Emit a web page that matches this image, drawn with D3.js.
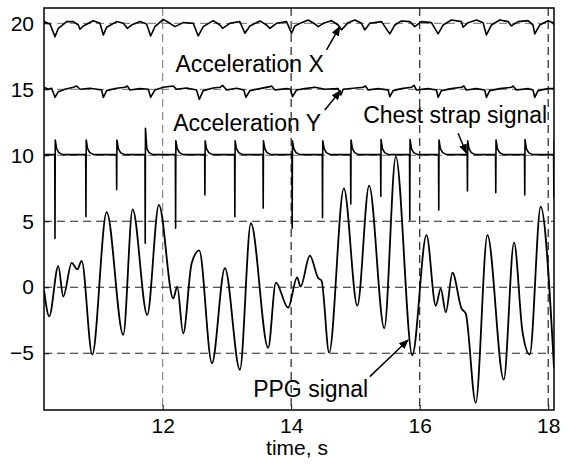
<!DOCTYPE html>
<html>
<head>
<meta charset="utf-8">
<script src="https://cdn.jsdelivr.net/npm/d3@7"></script>
<style>
body { margin: 0; background: #fff; }
svg { display: block; font-family: "Liberation Sans", Arial, Helvetica, sans-serif; }
</style>
</head>
<body>
<svg id="chart" width="567" height="464"></svg>
<script>
// ticks
var xTicks = [12, 14, 16, 18]
var yTicks = [-5, 0, 5, 10, 15, 20]

// acceleration X, [time s, value]
var accX = [
  [10.154,20.13],[10.247,19.95],[10.325,18.99],[10.377,19.62],[10.507,20.13],[10.610,20.13],[10.688,19.87],[10.714,19.55],
  [10.766,19.80],[10.921,20.20],[11.025,20.0],[11.077,19.12],[11.129,19.70],[11.284,20.13],[11.388,20.0],[11.450,19.62],
  [11.517,19.87],[11.647,20.13],[11.751,19.95],[11.813,19.04],[11.880,19.75],[12.010,20.30],[12.114,20.0],[12.191,19.75],
  [12.321,20.05],[12.476,20.0],[12.554,19.04],[12.632,19.75],[12.787,20.20],[12.891,19.87],[12.933,19.62],[13.047,20.0],
  [13.202,20.13],[13.280,19.25],[13.358,19.80],[13.513,20.18],[13.617,19.87],[13.669,19.62],[13.772,20.0],[13.928,20.13],
  [14.006,19.25],[14.058,19.80],[14.161,20.05],[14.265,20.25],[14.369,19.95],[14.420,19.75],[14.524,20.05],[14.628,20.20],
  [14.731,19.87],[14.783,19.50],[14.887,20.05],[14.991,20.25],[15.094,20.0],[15.146,19.50],[15.224,20.0],[15.405,20.13],
  [15.535,19.20],[15.613,19.87],[15.716,20.18],[15.846,20.13],[15.924,19.75],[16.027,20.13],[16.183,20.05],[16.287,19.20],
  [16.364,19.87],[16.494,20.25],[16.650,20.13],[16.675,19.70],[16.753,20.05],[16.883,20.25],[16.986,20.05],[17.038,19.12],
  [17.116,19.87],[17.246,20.25],[17.375,20.13],[17.427,19.80],[17.531,20.13],[17.686,20.20],[17.764,19.87],[17.790,19.20],
  [17.868,19.87],[17.997,20.20],[18.075,20.05],[18.09,19.87]
]

// acceleration Y
var accY = [
  [10.154,15.15],[10.221,15.0],[10.273,15.08],[10.325,14.39],[10.377,14.82],[10.481,15.0],[10.610,15.15],[10.662,15.25],
  [10.714,15.0],[10.869,15.08],[11.051,14.95],[11.077,14.39],[11.129,14.90],[11.284,15.08],[11.414,15.15],[11.450,15.25],
  [11.492,14.95],[11.647,15.05],[11.777,15.0],[11.813,14.39],[11.880,14.95],[12.010,15.15],[12.165,15.25],[12.217,15.0],
  [12.373,15.10],[12.528,14.95],[12.570,14.24],[12.632,14.90],[12.787,15.10],[12.891,15.15],[12.933,15.30],[12.995,14.95],
  [13.150,15.08],[13.264,14.95],[13.296,14.39],[13.358,14.90],[13.513,15.05],[13.669,15.20],[13.695,15.25],[13.747,14.95],
  [13.928,15.05],[13.990,15.0],[14.021,14.44],[14.084,14.95],[14.213,15.05],[14.369,15.15],[14.524,15.0],[14.731,15.05],
  [14.773,14.57],[14.809,15.0],[14.965,15.08],[15.120,15.15],[15.157,15.25],[15.198,14.95],[15.354,15.05],[15.509,14.95],
  [15.535,14.44],[15.587,14.90],[15.716,15.05],[15.872,15.15],[15.913,15.30],[15.950,14.95],[16.131,15.05],[16.261,14.95],
  [16.287,14.39],[16.338,14.90],[16.494,15.05],[16.650,15.15],[16.686,15.25],[16.727,14.95],[16.883,15.05],[17.012,14.95],
  [17.038,14.39],[17.090,14.90],[17.246,15.05],[17.427,15.15],[17.453,15.25],[17.505,14.95],[17.686,15.05],[17.764,14.95],
  [17.790,14.39],[17.842,14.90],[17.997,15.05],[18.09,15.05]
]

// chest strap beats
var beatTimes = [10.325,10.807,11.285,11.729,12.202,12.658,13.124,13.565,14.016,14.488,14.928,15.395,15.846,16.297,16.743,17.184,17.635,18.088]
var beatDepths = [3.7,5.35,7.4,3.33,4.47,7.0,5.35,6.0,4.47,5.27,6.3,6.9,5.1,5.85,7.3,7.17,7.0,6.8]
var beatPeaks = [11.16,11.16,11.16,12.05,11.1,11.1,11.1,11.1,11.1,11.1,11.16,11.2,11.2,11.16,11.1,11.16,11.2,11.16]
var chestBase = 10.05

// PPG signal
var ppgTime = [10.154,10.236,10.376,10.454,10.585,10.672,10.740,10.905,11.129,11.387,11.533,11.760,11.942,12.165,12.227,
  12.320,12.451,12.569,12.767,12.969,13.202,13.373,13.642,13.762,13.953,14.093,14.146,14.291,14.420,14.473,14.591,14.820,
  15.030,15.213,15.449,15.628,15.885,16.106,16.250,16.328,16.406,16.510,16.650,16.717,16.872,17.054,17.308,17.468,17.599,
  17.712,17.883,18.09]
var ppgValue = [-0.2,-2.2,1.6,-0.7,1.85,1.35,2.0,-5.1,5.7,-3.6,5.9,-2.1,6.25,-0.85,0.05,
  -3.5,1.8,2.8,-5.75,1.45,-6.25,4.85,-4.6,0.35,-1.55,0.75,0.05,2.4,0.7,0.5,-4.95,7.5,
  -1.4,7.7,-3.1,9.9,-5.15,3.95,-1.4,-0.1,-1.9,1.1,-1.6,-2.0,-8.75,3.95,-7.0,3.4,-3.35,
  -5.1,6.1,-6.1]

// annotation text anchor (time, value) and arrow from -> to
var labels = [
  {text: "Acceleration X", t: 12.2, v: 16.33, from: [14.551, 17.98], to: [14.757, 19.74]},
  {text: "Acceleration Y", t: 12.165, v: 11.86, from: [14.524, 13.43], to: [14.768, 14.89]},
  {text: "Chest strap signal", t: 15.12, v: 12.42, from: [16.597, 11.67], to: [16.728, 10.15]},
  {text: "PPG signal", t: 13.409, v: -8.35, from: [15.224, -6.77], to: [15.82, -3.99]}
]

var svg = d3.select('#chart')
var mLeft = 44, mRight = 554, mTop = 8, mBottom = 410

var x = d3.scaleLinear().domain([10.154, 18.09]).range([mLeft, mRight])
var y = d3.scaleLinear().domain([-9.3, 21.16]).range([mBottom, mTop])

var defs = svg.append('defs')
defs.append('clipPath').attr('id', 'clip')
  .append('rect').attr('x', mLeft).attr('y', mTop).attr('width', mRight - mLeft).attr('height', mBottom - mTop)

defs.append('marker')
  .attr('id', 'head').attr('viewBox', '0 0 10 10').attr('refX', 9).attr('refY', 5)
  .attr('markerWidth', 10).attr('markerHeight', 10).attr('markerUnits', 'userSpaceOnUse')
  .attr('orient', 'auto')
  .append('path').attr('d', 'M0,1 L10,5 L0,9 Z').attr('fill', '#000')

// grid
var grid = svg.append('g')
grid.selectAll('line.v').data(xTicks).enter().append('line')
  .attr('x1', d => x(d)).attr('x2', d => x(d)).attr('y1', mTop).attr('y2', mBottom)
  .attr('stroke', d => d === 12 ? '#888' : '#222').attr('stroke-width', 1.2)
  .attr('stroke-dasharray', '8,5')
grid.selectAll('line.h').data(yTicks).enter().append('line')
  .attr('x1', mLeft).attr('x2', mRight).attr('y1', d => y(d)).attr('y2', d => y(d))
  .attr('stroke', d => d >= 10 ? '#888' : '#222').attr('stroke-width', 1.2)
  .attr('stroke-dasharray', '8,5')

// signals
var plot = svg.append('g').attr('clip-path', 'url(#clip)')
var line = d3.line().x(d => x(d[0])).y(d => y(d[1]))

plot.append('path').datum(accX).attr('d', line)
  .attr('fill', 'none').attr('stroke', '#000').attr('stroke-width', 1.6).attr('stroke-linejoin', 'round')
plot.append('path').datum(accY).attr('d', line)
  .attr('fill', 'none').attr('stroke', '#000').attr('stroke-width', 1.6).attr('stroke-linejoin', 'round')

var chest = [[10.154, chestBase]]
beatTimes.forEach(function(t, i) {
  chest.push([t - 0.004, chestBase])
  chest.push([t, beatDepths[i]])
  chest.push([t + 0.004, beatPeaks[i]])
  chest.push([t + 0.025, chestBase + 0.45])
  chest.push([t + 0.06, chestBase + 0.15])
  chest.push([t + 0.12, chestBase])
})
plot.append('path').datum(chest).attr('d', line)
  .attr('fill', 'none').attr('stroke', '#000').attr('stroke-width', 1.6).attr('stroke-linejoin', 'round')

var ppg = ppgTime.map((t, i) => [t, ppgValue[i]])
plot.append('path').datum(ppg).attr('d', d3.line().x(d => x(d[0])).y(d => y(d[1])).curve(d3.curveMonotoneX))
  .attr('fill', 'none').attr('stroke', '#000').attr('stroke-width', 1.8)

// axes
svg.append('g').attr('transform', 'translate(' + mLeft + ',0)')
  .call(d3.axisLeft(y).tickValues(yTicks).tickSize(-5).tickPadding(10).tickFormat(d3.format('d')))
svg.append('g').attr('transform', 'translate(0,' + mBottom + ')')
  .call(d3.axisBottom(x).tickValues(xTicks).tickSize(-5).tickPadding(8).tickFormat(d3.format('d')))
svg.selectAll('.domain').remove()
svg.selectAll('.tick line').attr('stroke', '#000').attr('stroke-width', 1)
svg.selectAll('.tick text').attr('font-size', 21).attr('fill', '#000').attr('font-family', '"Liberation Sans", Arial, sans-serif')

svg.append('rect').attr('x', mLeft).attr('y', mTop).attr('width', mRight - mLeft).attr('height', mBottom - mTop)
  .attr('fill', 'none').attr('stroke', '#000').attr('stroke-width', 1.5)

// labels and arrows
labels.forEach(function(l) {
  svg.append('text').attr('x', x(l.t)).attr('y', y(l.v)).attr('font-size', 23).text(l.text)
  svg.append('line').attr('x1', x(l.from[0])).attr('y1', y(l.from[1]))
    .attr('x2', x(l.to[0])).attr('y2', y(l.to[1]))
    .attr('stroke', '#000').attr('stroke-width', 1.5).attr('marker-end', 'url(#head)')
})

svg.append('text').attr('x', 297).attr('y', 455).attr('text-anchor', 'middle')
  .attr('font-size', 21).text('time, s')
</script>
</body>
</html>
